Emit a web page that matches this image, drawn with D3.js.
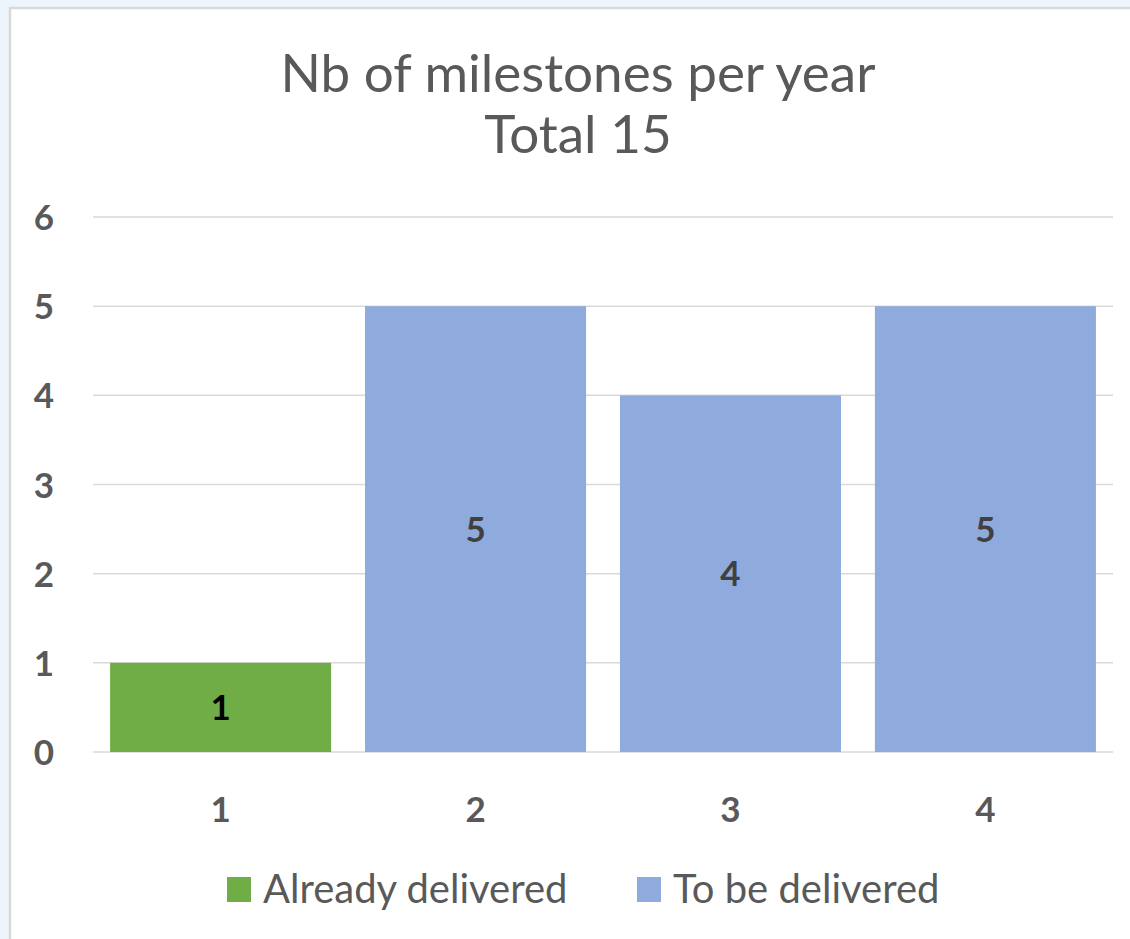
<!DOCTYPE html>
<html>
<head>
<meta charset="utf-8">
<script src="https://cdn.jsdelivr.net/npm/d3@7"></script>
<style>
  html, body { margin: 0; padding: 0; background: #eef4fc; }
  #vis { width: 1130px; height: 939px; overflow: hidden; }
</style>
</head>
<body>
<div id="vis"></div>
<script>
const width = 1130;
const height = 939;

// chart values
const years = ['1', '2', '3', '4'];
const alreadyDelivered = [1, 0, 0, 0];
const toBeDelivered = [0, 5, 4, 5];
const seriesNames = ['Already delivered', 'To be delivered'];
const seriesColors = ['#70ad47', '#8faadc'];
const yTicks = [0, 1, 2, 3, 4, 5, 6];
const titleLines = ['Nb of milestones per year', 'Total 15'];

const font = 'Lato, "Open Sans", sans-serif';
const textGray = '#595959';

const rows = years.map((y, i) => ({
  year: y,
  'Already delivered': alreadyDelivered[i],
  'To be delivered': toBeDelivered[i]
}));
const stacked = d3.stack().keys(seriesNames)(rows);

const x = d3.scaleBand()
  .domain(years)
  .range([93, 1113])
  .paddingInner(0.133)
  .paddingOuter(0.067);

const y = d3.scaleLinear()
  .domain([0, 6])
  .range([752, 217]);

const color = d3.scaleOrdinal()
  .domain(seriesNames)
  .range(seriesColors);

const svg = d3.select('#vis').append('svg')
  .attr('width', width)
  .attr('height', height);

function drawFrame() {
  svg.append('rect')
    .attr('x', 10)
    .attr('y', 8)
    .attr('width', width + 10)
    .attr('height', height + 10)
    .attr('fill', '#ffffff')
    .attr('stroke', '#d9d9d9')
    .attr('stroke-width', 2.5);
}

function drawTitle() {
  svg.append('text')
    .attr('text-anchor', 'middle')
    .attr('fill', textGray)
    .style('font-family', font)
    .style('font-size', '53px')
    .selectAll('tspan')
    .data(titleLines)
    .join('tspan')
    .attr('x', 578)
    .attr('y', (d, i) => 92 + i * 61)
    .text(d => d);
}

function drawGrid() {
  svg.append('g')
    .selectAll('line')
    .data(yTicks)
    .join('line')
    .attr('x1', x.range()[0])
    .attr('x2', x.range()[1])
    .attr('y1', d => y(d))
    .attr('y2', d => y(d))
    .attr('stroke', '#d9d9d9')
    .attr('stroke-width', 1.5);
}

function drawAxes() {
  const yAxis = svg.append('g')
    .attr('transform', 'translate(54,0)')
    .call(d3.axisLeft(y).tickValues(yTicks).tickFormat(d3.format('d')).tickSize(0).tickPadding(0));
  yAxis.select('.domain').remove();
  yAxis.selectAll('text')
    .attr('fill', textGray)
    .attr('dy', '0.36em')
    .style('font-family', font)
    .style('font-size', '35px')
    .style('font-weight', 'bold');

  const xAxis = svg.append('g')
    .attr('transform', `translate(0,${y(0)})`)
    .call(d3.axisBottom(x).tickSize(0).tickPadding(0));
  xAxis.select('.domain').remove();
  xAxis.selectAll('text')
    .attr('y', 57)
    .attr('dy', '0.36em')
    .attr('fill', textGray)
    .style('font-family', font)
    .style('font-size', '35px')
    .style('font-weight', 'bold');
}

function drawBars() {
  const groups = svg.append('g')
    .selectAll('g')
    .data(stacked)
    .join('g')
    .attr('fill', d => color(d.key));

  groups.selectAll('rect')
    .data(d => d.filter(s => s[1] - s[0] > 0))
    .join('rect')
    .attr('x', d => x(d.data.year))
    .attr('width', x.bandwidth())
    .attr('y', d => y(d[1]))
    .attr('height', d => y(d[0]) - y(d[1]));

  groups.selectAll('text')
    .data(d => d.filter(s => s[1] - s[0] > 0).map(s => Object.assign(s, { key: d.key })))
    .join('text')
    .attr('x', d => x(d.data.year) + x.bandwidth() / 2)
    .attr('y', d => (y(d[0]) + y(d[1])) / 2)
    .attr('dy', '0.36em')
    .attr('text-anchor', 'middle')
    .attr('fill', d => d.key === 'Already delivered' ? '#000000' : '#404040')
    .style('font-family', font)
    .style('font-size', '35px')
    .style('font-weight', 'bold')
    .text(d => d[1] - d[0]);
}

function drawLegend() {
  const legendX = [227, 637];
  const item = svg.append('g')
    .selectAll('g')
    .data(seriesNames)
    .join('g')
    .attr('transform', (d, i) => `translate(${legendX[i]},889)`);
  item.append('rect')
    .attr('x', 0)
    .attr('y', -12)
    .attr('width', 24)
    .attr('height', 25)
    .attr('fill', d => color(d));
  item.append('text')
    .attr('x', 36)
    .attr('y', 14)
    .attr('fill', textGray)
    .style('font-family', font)
    .style('font-size', '40px')
    .text(d => d);
}

drawFrame();
drawTitle();
drawGrid();
drawBars();
drawAxes();
drawLegend();
</script>
</body>
</html>
